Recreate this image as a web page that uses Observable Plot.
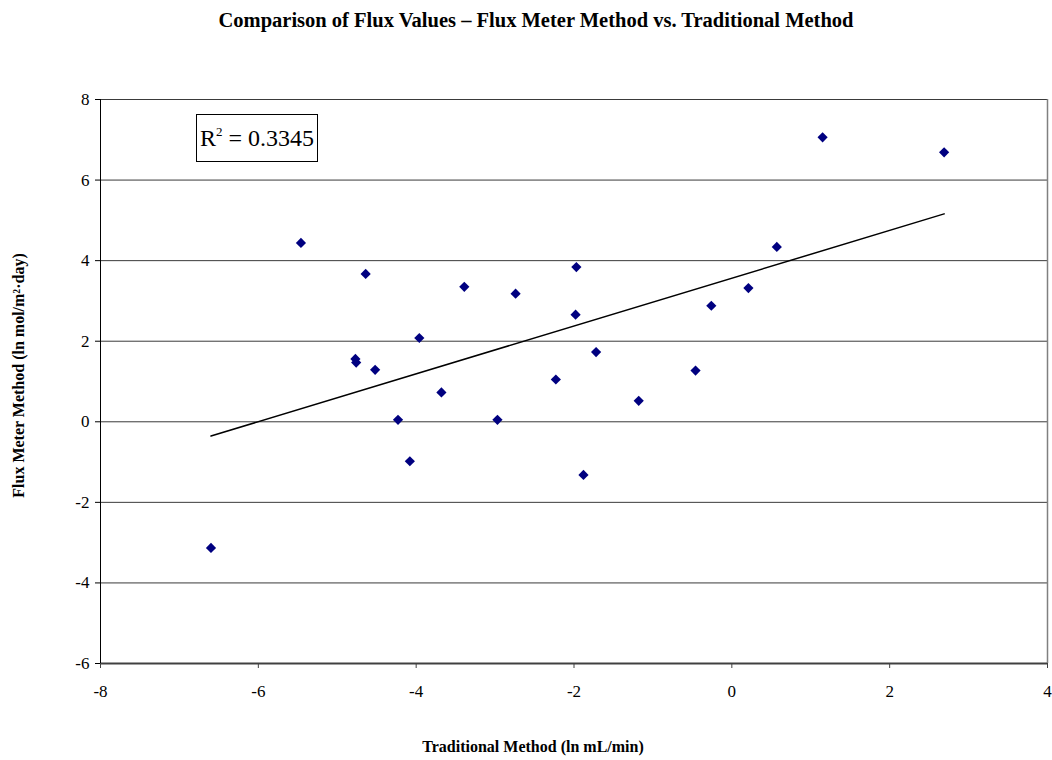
<!DOCTYPE html>
<html>
<head>
<meta charset="utf-8">
<script src="https://cdn.jsdelivr.net/npm/d3@7"></script>
<script src="https://cdn.jsdelivr.net/npm/@observablehq/plot@0.6"></script>
<style>
  html, body { margin: 0; padding: 0; background: #fff; }
  #wrap { position: relative; width: 1052px; height: 760px; font-family: "Liberation Serif", "Times New Roman", serif; }
  #title { height: 40px; line-height: 40px; text-align: center; padding-left: 20px; box-sizing: border-box;
           font-weight: bold; font-size: 20.5px; color: #000; white-space: nowrap; }
  #r2 { position: absolute; left: 196px; top: 114px; width: 120px; height: 46px; border: 1px solid #000;
        font-size: 24px; line-height: 46px; text-align: center; background: #fff; color: #000; white-space: nowrap; }
  #r2 sup { font-size: 13px; vertical-align: 0; position: relative; top: -10px; }
</style>
</head>
<body>
<div id="wrap">
  <div id="title">Comparison of Flux Values – Flux Meter Method vs. Traditional Method</div>
  <div id="chart"></div>
  <div id="r2">R<sup>2</sup> = 0.3345</div>
</div>
<script>
const xValues = [-6.60, -5.46, -4.77, -4.76, -4.64, -4.52, -4.23, -4.08, -3.96, -3.68, -3.39, -2.74, -2.97,
                 -1.97, -1.98, -1.72, -2.23, -1.18, -0.46, -1.88, -0.26, 0.21, 0.57, 1.15, 2.69];
const yValues = [-3.13, 4.44, 1.56, 1.47, 3.67, 1.29, 0.05, -0.98, 2.08, 0.73, 3.35, 3.18, 0.05,
                 3.84, 2.66, 1.73, 1.05, 0.52, 1.27, -1.32, 2.88, 3.32, 4.34, 7.06, 6.69];
const xTicks = [-8, -6, -4, -2, 0, 2, 4];
const yTicks = [-6, -4, -2, 0, 2, 4, 6, 8];
const xLabel = "Traditional Method (ln mL/min)";
const yLabel = "Flux Meter Method (ln mol/m²·day)";

const data = xValues.map((x, i) => ({x, y: yValues[i]}));

const chart = Plot.plot({
  width: 1052,
  height: 720,
  marginLeft: 100,
  marginRight: 5,
  marginTop: 59,
  marginBottom: 97,
  style: {fontFamily: '"Liberation Serif", "Times New Roman", serif', fontSize: "17px", color: "#000", background: "#fff"},
  x: {domain: [-8, 4]},
  y: {domain: [-6, 8]},
  marks: [
    Plot.ruleY(yTicks.filter(d => d > -6), {stroke: "#3a3a3a", strokeWidth: 1}),
    Plot.ruleX([4], {stroke: "#808080", strokeWidth: 1.5}),
    Plot.ruleY([-6], {stroke: "#404040", strokeWidth: 2}),
    Plot.ruleX([-8], {stroke: "#000", strokeWidth: 1}),
    Plot.axisX({ticks: xTicks, tickFormat: d => String(d), tickSize: 5, tickPadding: 16, fontSize: 17, label: null, stroke: "#404040"}),
    Plot.axisY({ticks: yTicks, tickFormat: d => String(d), tickSize: 5, tickPadding: 6, fontSize: 17, label: null, stroke: "#000"}),
    Plot.linearRegressionY(data, {x: "x", y: "y", ci: 0, stroke: "#000", strokeWidth: 1.5}),
    Plot.dot(data, {x: "x", y: "y", symbol: "diamond2", r: 4.6, fill: "#000080", stroke: "none"}),
    Plot.text([xLabel], {frameAnchor: "bottom", textAnchor: "middle", dx: -41, dy: 88, text: d => d, fontWeight: "bold", fontSize: 16}),
    Plot.text([yLabel], {frameAnchor: "left", textAnchor: "middle", dx: -82, dy: -6, rotate: -90, text: d => d, fontWeight: "bold", fontSize: 16})
  ]
});
document.getElementById("chart").appendChild(chart);
</script>
</body>
</html>
